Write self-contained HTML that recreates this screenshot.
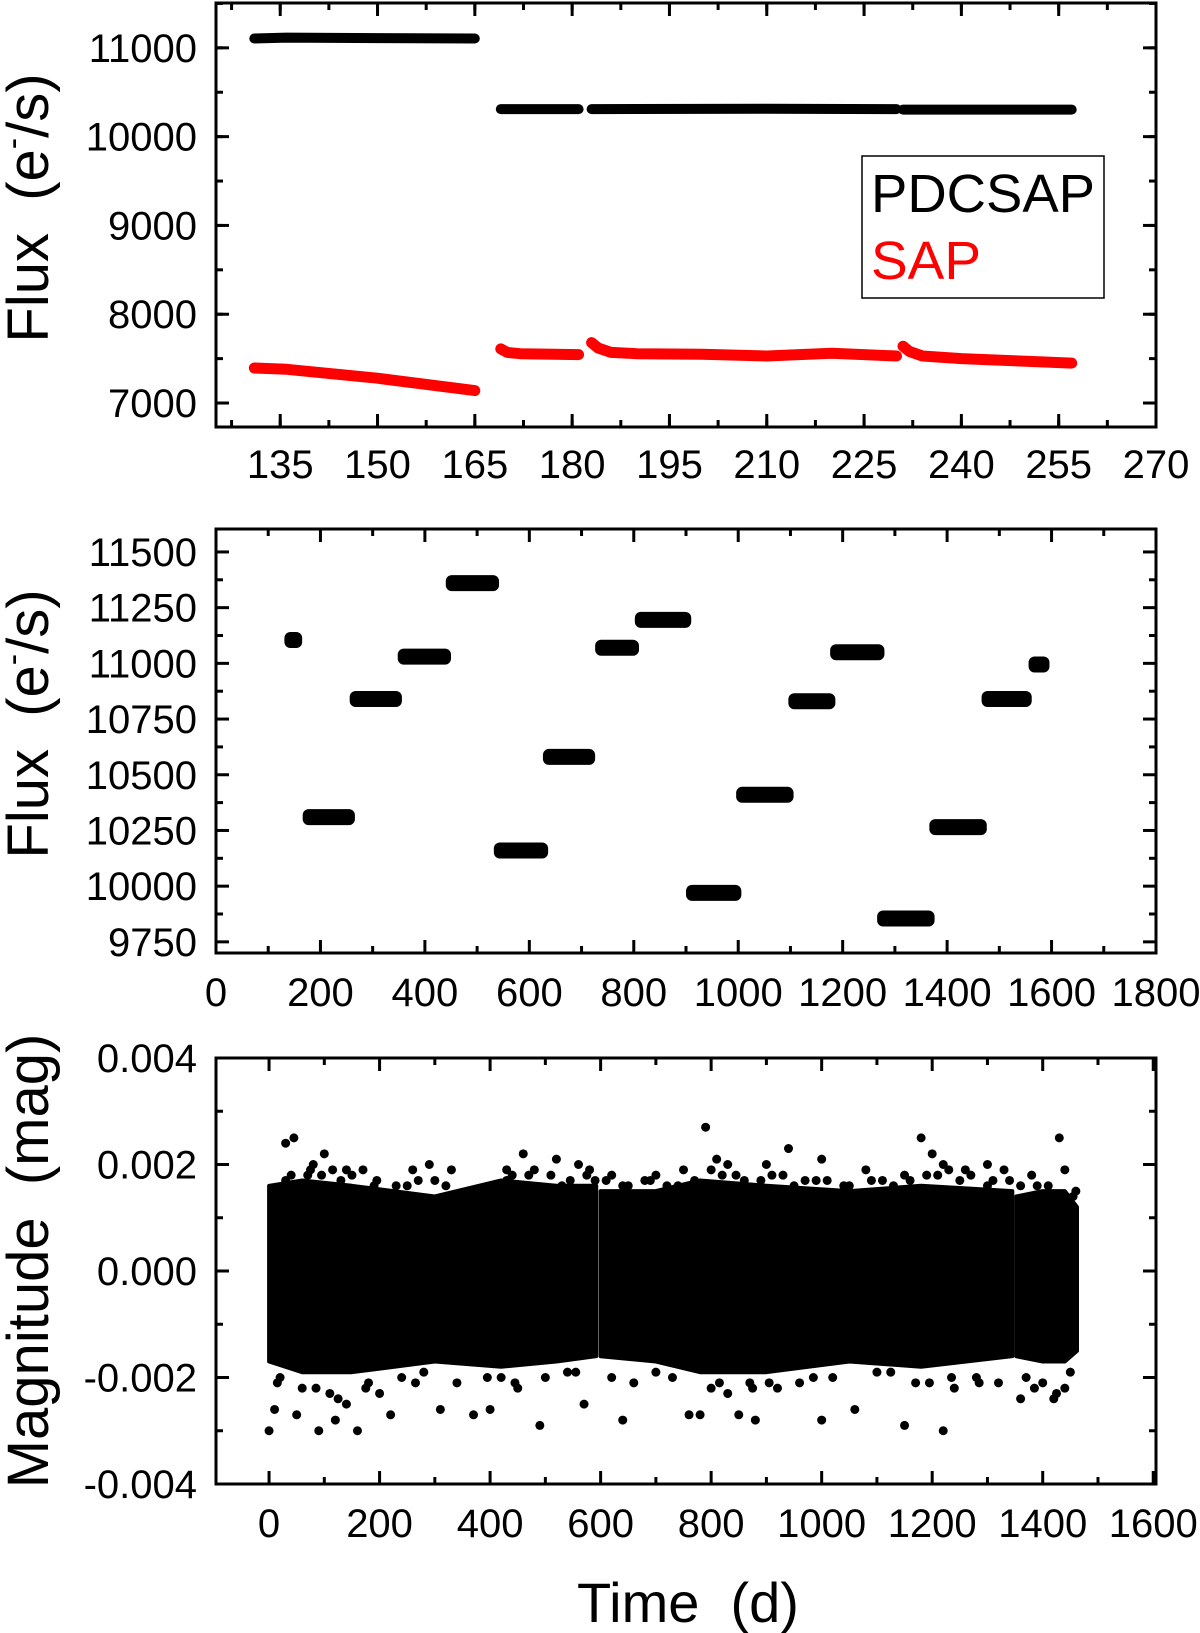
<!DOCTYPE html>
<html><head><meta charset="utf-8"><style>
html,body{margin:0;padding:0;background:#fff}
svg{display:block}
text{font-family:"Liberation Sans",Arial,sans-serif;fill:#000;white-space:pre}
</style></head><body>
<svg id="fig" width="1200" height="1633" viewBox="0 0 1200 1633" xmlns="http://www.w3.org/2000/svg"></svg>
<script>
// ---------- Panel 1 data ----------
const p1XTicks = [135,150,165,180,195,210,225,240,255,270];
const p1YTicks = [7000,8000,9000,10000,11000];
const pdcsapSegments = [
  {t:[131,136,150,165], f:[11105,11115,11110,11105]},
  {t:[169,181], f:[10310,10310]},
  {t:[183,210,230], f:[10310,10315,10310]},
  {t:[231,257], f:[10305,10305]}
];
const sapSegments = [
  {t:[131,136,150,165], f:[7395,7380,7280,7140]},
  {t:[169,170,172,181], f:[7610,7570,7555,7545]},
  {t:[183,184,186,190,200,210,220,230], f:[7680,7620,7570,7555,7550,7530,7560,7530]},
  {t:[231,232,234,240,250,257], f:[7640,7580,7530,7500,7470,7450]}
];
// ---------- Panel 2 data ----------
const p2XTicks = [0,200,400,600,800,1000,1200,1400,1600,1800];
const p2YTicks = [9750,10000,10250,10500,10750,11000,11250,11500];
const p2Start = [131,166,256,348,440,532,626,726,802,900,996,1096,1176,1266,1366,1466,1556];
const p2End   = [165,266,356,450,542,636,726,810,910,1006,1106,1186,1280,1376,1476,1562,1596];
const p2Flux  = [11105,10310,10840,11030,11360,10160,10580,11070,11195,9970,10410,10830,11050,9855,10265,10840,10995];
// ---------- Panel 3 data ----------
const p3XTicks = [0,200,400,600,800,1000,1200,1400,1600];
const p3YTicks = [-0.004,-0.002,0.000,0.002,0.004];
const p3YTickLabels = ["-0.004","-0.002","0.000","0.002","0.004"];
const bandT     = [[0,60,150,300,420,520,592],[600,700,780,900,1050,1180,1345],[1352,1400,1440,1462]];
const bandUpper = [[0.0016,0.0017,0.0016,0.0014,0.0017,0.0016,0.0016],[0.0015,0.0015,0.0017,0.0016,0.0015,0.0016,0.0015],[0.0014,0.0015,0.0015,0.0012]];
const bandLower = [[-0.0017,-0.0019,-0.0019,-0.0017,-0.0018,-0.0017,-0.0016],[-0.0016,-0.0017,-0.0019,-0.0019,-0.0017,-0.0018,-0.0016],[-0.0016,-0.0017,-0.0017,-0.0015]];
const outT = [30,45,100,80,140,170,260,290,330,460,430,520,560,580,620,700,750,790,810,830,940,900,1000,1080,1150,1180,1200,1220,1260,1300,1330,1380,1430,1440,
  0,90,160,490,640,1150,1220,10,50,120,220,310,370,400,570,760,780,850,880,1000,1060,1360,1420,1440,140,200,
  20,60,110,180,240,280,340,420,450,500,540,620,660,700,730,800,830,870,920,960,1020,1100,1170,1240,1280,1320,1370,1400,1450,
  30,70,130,190,250,300,360,430,470,530,590,650,690,740,820,860,910,950,990,1040,1090,1130,1190,1250,1300,1340,1390,1460,
  40,75,95,115,150,195,230,270,320,380,440,480,510,545,575,610,640,680,720,770,800,845,890,930,970,1010,1050,1110,1160,1210,1230,1270,1310,1360,1410,1455,
  15,85,125,175,265,395,445,555,815,875,905,985,1125,1195,1235,1285,1385,1425];
const outV = [0.0024,0.0025,0.0022,0.0020,0.0019,0.0019,0.0019,0.0020,0.0019,0.0022,0.0019,0.0021,0.0020,0.0019,0.0018,0.0018,0.0019,0.0027,0.0021,0.0020,0.0023,0.0020,0.0021,0.0019,0.0018,0.0025,0.0022,0.0020,0.0019,0.0020,0.0019,0.0018,0.0025,0.0019,
  -0.0030,-0.0030,-0.0030,-0.0029,-0.0028,-0.0029,-0.0030,-0.0026,-0.0027,-0.0028,-0.0027,-0.0026,-0.0027,-0.0026,-0.0025,-0.0027,-0.0027,-0.0027,-0.0028,-0.0028,-0.0026,-0.0024,-0.0024,-0.0022,-0.0025,-0.0023,
  -0.0020,-0.0022,-0.0023,-0.0021,-0.0020,-0.0019,-0.0021,-0.0020,-0.0022,-0.0020,-0.0019,-0.0020,-0.0021,-0.0019,-0.0020,-0.0022,-0.0023,-0.0021,-0.0022,-0.0021,-0.0020,-0.0019,-0.0021,-0.0022,-0.0020,-0.0021,-0.0020,-0.0021,-0.0019,
  0.0017,0.0018,0.0017,0.0016,0.0016,0.0017,0.0015,0.0017,0.0018,0.0016,0.0017,0.0016,0.0017,0.0016,0.0018,0.0017,0.0018,0.0016,0.0017,0.0016,0.0017,0.0016,0.0018,0.0017,0.0016,0.0017,0.0016,0.0015,
  0.0018,0.0019,0.0018,0.0019,0.0018,0.0017,0.0016,0.0017,0.0016,0.0015,0.0018,0.0019,0.0018,0.0017,0.0018,0.0017,0.0016,0.0017,0.0016,0.0017,0.0019,0.0018,0.0017,0.0018,0.0017,0.0017,0.0016,0.0017,0.0017,0.0018,0.0019,0.0018,0.0017,0.0016,0.0016,0.0014,
  -0.0021,-0.0022,-0.0024,-0.0022,-0.0021,-0.0020,-0.0021,-0.0019,-0.0021,-0.0022,-0.0021,-0.0020,-0.0019,-0.0021,-0.0020,-0.0021,-0.0022,-0.0023];

const NS = "http://www.w3.org/2000/svg";
const svg = document.getElementById('fig');
function mk(tag, attrs, parent){
  const e = document.createElementNS(NS, tag);
  for (const k in attrs) e.setAttribute(k, attrs[k]);
  (parent||svg).appendChild(e);
  return e;
}
function scale(d0,d1,r0,r1){ return v => r0 + (v-d0)/(d1-d0)*(r1-r0); }

function drawAxes(p){
  const g = mk('g', {});
  
  
  const {L,R,T,B,x,y} = p;
  for (let v=p.xMinor0; v<=p.xMax+1e-9; v+=p.xMinorStep){
    const px=x(v); if(px<L-0.5||px>R+0.5) continue;
    mk('line',{x1:px,y1:B,x2:px,y2:B-7,stroke:'#000','stroke-width':3},g);
    mk('line',{x1:px,y1:T,x2:px,y2:T+7,stroke:'#000','stroke-width':3},g);
  }
  for (let v=p.yMinor0; v<=p.yMax+1e-9; v+=p.yMinorStep){
    const py=y(v); if(py<T-0.5||py>B+0.5) continue;
    mk('line',{x1:L,y1:py,x2:L+7,y2:py,stroke:'#000','stroke-width':3},g);
    mk('line',{x1:R,y1:py,x2:R-7,y2:py,stroke:'#000','stroke-width':3},g);
  }
  p.xTicks.forEach(v=>{
    const px=x(v);
    if(px>=L-0.5&&px<=R+0.5){
      mk('line',{x1:px,y1:B,x2:px,y2:B-13,stroke:'#000','stroke-width':3},g);
      mk('line',{x1:px,y1:T,x2:px,y2:T+13,stroke:'#000','stroke-width':3},g);
    }
    const t = mk('text',{x:px,y:p.xLabelY,'font-size':40,'text-anchor':'middle'},g);
    t.textContent = String(v);
    
    
  });
  p.yTicks.forEach((v,i)=>{
    const py=y(v);
    mk('line',{x1:L,y1:py,x2:L+13,y2:py,stroke:'#000','stroke-width':3},g);
    mk('line',{x1:R,y1:py,x2:R-13,y2:py,stroke:'#000','stroke-width':3},g);
    const t = mk('text',{x:197,y:py+14,'font-size':40,'text-anchor':'end'},g);
    t.textContent = p.yLabels ? p.yLabels[i] : String(v);
    
    
  });
  const fr = mk('rect',{x:L,y:T,width:R-L,height:B-T,fill:'none',stroke:'#000','stroke-width':3},g);
  
  
}

// ---------- Panel 1 ----------
const L=216, R=1156;
const p1 = {name:'top-panel',L,R,T:3,B:427,xMax:270,yMax:11505,
  x:scale(125.1,270,L,R), y:scale(6730,11505,427,3),
  xTicks:p1XTicks, yTicks:p1YTicks, xMinor0:127.5, xMinorStep:7.5, yMinor0:6500, yMinorStep:500, xLabelY:478};
drawAxes(p1);
function drawSegs(segs, p, color, w, name){
  segs.forEach(s=>{
    const pts = s.t.map((t,i)=>p.x(t).toFixed(1)+','+p.y(s.f[i]).toFixed(1)).join(' ');
    const pl = mk('polyline',{points:pts,fill:'none',stroke:color,'stroke-width':w,'stroke-linecap':'round','stroke-linejoin':'round'});
    
    
  });
}
drawSegs(pdcsapSegments, p1, '#000', 10, 'pdcsap-series');
drawSegs(sapSegments, p1, '#ff0000', 11, 'sap-series');
const lg = mk('g',{});


mk('rect',{x:862,y:156,width:242,height:142,fill:'#fff',stroke:'#000','stroke-width':1.5},lg);
const le1 = mk('text',{x:871,y:212,'font-size':54,textLength:224,lengthAdjust:'spacingAndGlyphs'},lg);
le1.textContent='PDCSAP';


const le2 = mk('text',{x:871,y:279,'font-size':54,style:'fill:#ff0000',textLength:110,lengthAdjust:'spacingAndGlyphs'},lg);
le2.textContent='SAP';



// ---------- Panel 2 ----------
const p2 = {name:'middle-panel',L,R,T:529,B:953,xMax:1800,yMax:11603,
  x:scale(0,1800,L,R), y:scale(9700,11603,953,529),
  xTicks:p2XTicks, yTicks:p2YTicks, xMinor0:100, xMinorStep:200, yMinor0:9875, yMinorStep:250, xLabelY:1006};
drawAxes(p2);
p2Flux.forEach((f,i)=>{
  const x0=p2.x(p2Start[i]), x1=p2.x(p2End[i]), yc=p2.y(f);
  const r = mk('rect',{x:x0,y:yc-8,width:x1-x0,height:16,rx:6,fill:'#000'});
  
  
});

// ---------- Panel 3 ----------
const p3 = {name:'bottom-panel',L,R,T:1058,B:1484,xMax:1605,yMax:0.004,
  x:scale(-96,1605,L,R), y:scale(-0.004,0.004,1484,1058),
  xTicks:p3XTicks, yTicks:p3YTicks, yLabels:p3YTickLabels, xMinor0:100, xMinorStep:200, yMinor0:-0.003, yMinorStep:0.002, xLabelY:1537};
drawAxes(p3);
bandT.forEach((ts,s)=>{
  const up = ts.map((t,i)=>p3.x(t).toFixed(1)+','+p3.y(bandUpper[s][i]).toFixed(1));
  const lo = ts.map((t,i)=>p3.x(t).toFixed(1)+','+p3.y(bandLower[s][i]).toFixed(1)).reverse();
  const pg = mk('polygon',{points:up.concat(lo).join(' '),fill:'#000',stroke:'#000','stroke-width':4,'stroke-linejoin':'round'});
  
  
});
outT.forEach((t,i)=>{
  const c = mk('circle',{cx:p3.x(t),cy:p3.y(outV[i]),r:4.5,fill:'#000'});
  
  
});

// ---------- Axis titles ----------
function ytitle(txt, cy, name){
  const t = mk('text',{x:0,y:0,'font-size':58,'text-anchor':'middle',transform:'translate(48,'+cy+') rotate(-90)'});
  t.innerHTML = txt;
  
  
}
ytitle('Flux  (e<tspan font-size="34" dy="-24">-</tspan><tspan dy="24">/s)</tspan>', 208, 'top-y-axis-title');
ytitle('Flux  (e<tspan font-size="34" dy="-24">-</tspan><tspan dy="24">/s)</tspan>', 724, 'middle-y-axis-title');
ytitle('Magnitude  (mag)', 1261, 'bottom-y-axis-title');
const xt = mk('text',{x:688,y:1622,'font-size':56,'text-anchor':'middle'});
xt.textContent='Time  (d)';


</script>
</body></html>
